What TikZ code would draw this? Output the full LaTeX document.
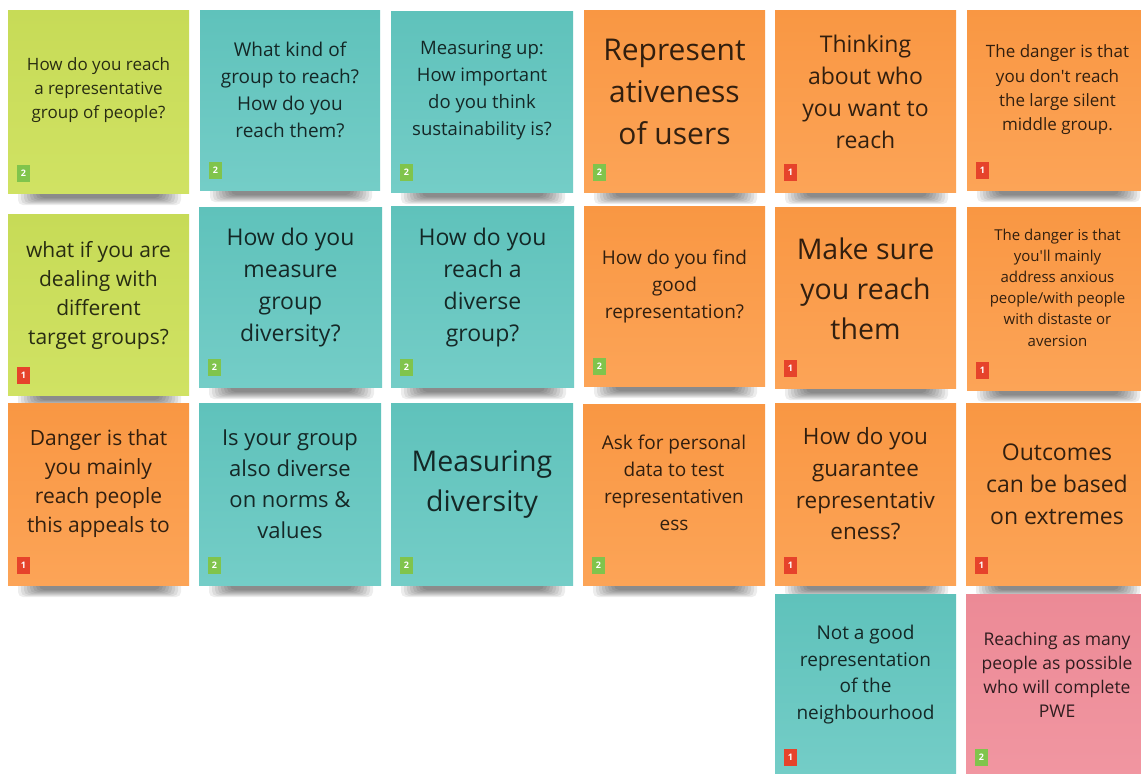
\documentclass[tikz,border=0pt]{standalone}
\usepackage{fontspec}
\setmainfont{Open Sans}
\usetikzlibrary{calc}

% sticky-note palette
\definecolor{limeA}{HTML}{C7DB57}
\definecolor{limeB}{HTML}{D0E263}
\definecolor{tealA}{HTML}{5FC2BB}
\definecolor{tealB}{HTML}{74CDC7}
\definecolor{orangeA}{HTML}{F99743}
\definecolor{orangeB}{HTML}{FCA457}
\definecolor{pinkA}{HTML}{EC8A96}
\definecolor{pinkB}{HTML}{F196A1}
\definecolor{voteRed}{HTML}{E6432B}
\definecolor{voteGreen}{HTML}{80C44C}

\newcommand\notefont[2]{\fontsize{#1pt}{#2pt}\selectfont}

\tikzset{
  stickyshadow/.style={fill=black, opacity=0.07, rounded corners=5pt},
  stickynote/.style={rectangle, draw=none, inner sep=0pt, outer sep=0pt},
  lime/.style={top color=limeA, bottom color=limeB},
  teal/.style={top color=tealA, bottom color=tealB},
  orange/.style={top color=orangeA, bottom color=orangeB},
  pink/.style={top color=pinkA, bottom color=pinkB},
  stickytext/.style={align=center, inner sep=0pt, yshift=-2.5pt,
    text=black, text opacity=0.8},
  badge/.style={rectangle, inner sep=0pt, minimum width=13pt, minimum height=17pt,
    text=white, font=\bfseries\notefont{9}{10}},
  vote1/.style={badge, fill=voteRed},
  vote2/.style={badge, fill=voteGreen},
}

% \sticky{name}{left}{top}{right}{bottom}{colour style}{votes}
\newcommand\sticky[7]{%
  \foreach \k in {0,...,7}{%
    \fill[stickyshadow] ({#2+10+3*\k},{#5-8}) rectangle ({#4-8-3*\k},{#5+12-\k});
  }
  \pgfmathsetmacro\notew{#4-#2}%
  \pgfmathsetmacro\noteh{#5-#3}%
  \node[stickynote, #6, minimum width=\notew pt, minimum height=\noteh pt]
    (#1) at ({(#2+#4)/2},{(#3+#5)/2}) {};
  \node[vote#7] (#1-votes) at ({#2+15.5},{#5-20}) {#7};
}

\begin{document}
\begin{tikzpicture}[x=1pt, y=-1pt]
  \useasboundingbox (0,0) rectangle (1141,774);
  \fill[white] (0,0) rectangle (1141,774);
  \clip (0,0) rectangle (1141,774);

  % ---- row 1
  \sticky{n11}{8}{10}{189}{193}{lime}{2}
  \node[stickytext, font=\notefont{17}{24}] (n11-text) at (n11 |- 0,88)
    {How do you reach\\a representative\\group of people?};
  \sticky{n12}{200}{10}{380}{190}{teal}{2}
  \node[stickytext, font=\notefont{19}{27}] (n12-text) at (n12 |- 0,87.5)
    {What kind of\\group to reach?\\How do you\\reach them?};
  \sticky{n13}{391}{11}{573}{192}{teal}{2}
  \node[stickytext, font=\notefont{18.5}{27}] (n13-text) at (n13 |- 0,87.5)
    {Measuring up:\\How important\\do you think\\sustainability is?};
  \sticky{n14}{584}{10}{765}{192}{orange}{2}
  \node[stickytext, font=\notefont{30}{42}] (n14-text) at (n14 |- 0,89)
    {Represent\\ativeness\\of users};
  \sticky{n15}{775}{10}{956}{192}{orange}{1}
  \node[stickytext, font=\notefont{23}{32}] (n15-text) at (n15 |- 0,89)
    {Thinking\\about who\\you want to\\reach};
  \sticky{n16}{967}{10}{1148}{190}{orange}{1}
  \node[stickytext, font=\notefont{17}{24.3}] (n16-text) at (n16 |- 0,87.5)
    {The danger is that\\you don\textquotesingle t reach\\the large silent\\middle group.};

  % ---- row 2
  \sticky{n21}{8}{214}{189}{395}{lime}{1}
  \node[stickytext, font=\notefont{21}{29}] (n21-text) at (n21 |- 0,293)
    {what if you are\\dealing with\\different\\target groups?};
  \sticky{n22}{199}{207}{382}{387}{teal}{2}
  \node[stickytext, font=\notefont{23}{32}] (n22-text) at (n22 |- 0,285.5)
    {How do you\\measure\\group\\diversity?};
  \sticky{n23}{391}{206}{574}{387}{teal}{2}
  \node[stickytext, font=\notefont{23}{32}] (n23-text) at (n23 |- 0,285.5)
    {How do you\\reach a\\diverse\\group?};
  \sticky{n24}{584}{206}{765}{386}{orange}{2}
  \node[stickytext, font=\notefont{19}{27}] (n24-text) at (n24 |- 0,284)
    {How do you find\\good\\representation?};
  \sticky{n25}{775}{207}{956}{388}{orange}{1}
  \node[stickytext, font=\notefont{28.5}{40}] (n25-text) at (n25 |- 0,286.5)
    {Make sure\\you reach\\them};
  \sticky{n26}{967}{207}{1148}{390}{orange}{1}
  \node[stickytext, font=\notefont{15}{21.2}] (n26-text) at (n26 |- 0,285)
    {The danger is that\\you\textquotesingle ll mainly\\address anxious\\people/with people\\with distaste or\\aversion};

  % ---- row 3
  \sticky{n31}{8}{403}{189}{585}{orange}{1}
  \node[stickytext, font=\notefont{21}{29}] (n31-text) at (n31 |- 0,481.5)
    {Danger is that\\you mainly\\reach people\\this appeals to};
  \sticky{n32}{199}{403}{381}{585}{teal}{2}
  \node[stickytext, font=\notefont{22}{31}] (n32-text) at (n32 |- 0,482)
    {Is your group\\also diverse\\on norms \&\\values};
  \sticky{n33}{391}{403}{573}{585}{teal}{2}
  \node[stickytext, font=\notefont{28.5}{40}] (n33-text) at (n33 |- 0,482)
    {Measuring\\diversity};
  \sticky{n34}{583}{404}{765}{585}{orange}{2}
  \node[stickytext, font=\notefont{19}{27}] (n34-text) at (n34 |- 0,480.5)
    {Ask for personal\\data to test\\representativen\\ess};
  \sticky{n35}{775}{403}{956}{585}{orange}{1}
  \node[stickytext, font=\notefont{22.5}{31.7}] (n35-text) at (n35 |- 0,481.5)
    {How do you\\guarantee\\representativ\\eness?};
  \sticky{n36}{966}{403}{1148}{585}{orange}{1}
  \node[stickytext, font=\notefont{23}{32}] (n36-text) at (n36 |- 0,482)
    {Outcomes\\can be based\\on extremes};

  % ---- row 4
  \sticky{n45}{775}{594}{956}{777}{teal}{1}
  \node[stickytext, font=\notefont{19}{26.7}] (n45-text) at (n45 |- 0,672)
    {Not a good\\representation\\of the\\neighbourhood};
  \sticky{n46}{966}{594}{1148}{777}{pink}{2}
  \node[stickytext, font=\notefont{17.5}{24}] (n46-text) at (n46 |- 0,672)
    {Reaching as many\\people as possible\\who will complete\\PWE};
\end{tikzpicture}
\end{document}
